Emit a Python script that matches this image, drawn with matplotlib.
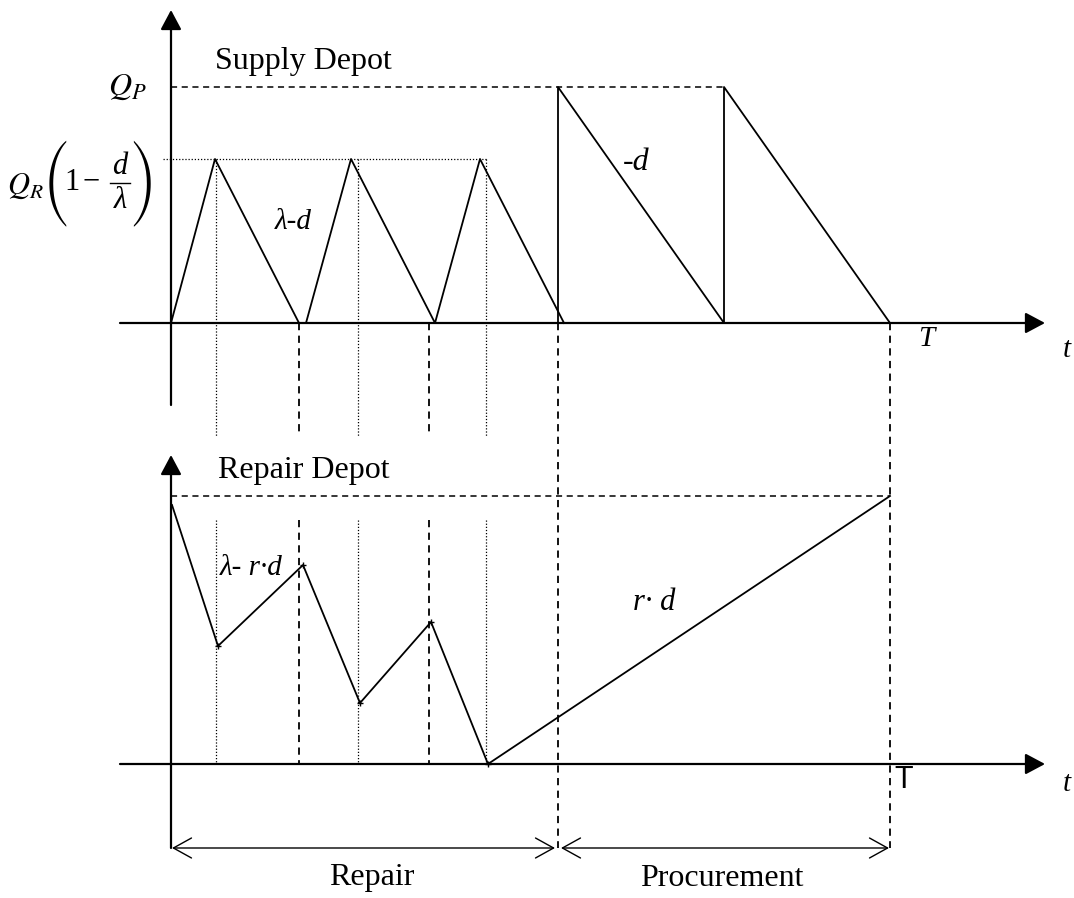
import matplotlib.pyplot as plt

plt.rcParams['font.family'] = ['Liberation Serif', 'DejaVu Serif']
plt.rcParams['mathtext.fontset'] = 'stix'

# time axis: 0 at the vertical axis
# Supply depot (upper panel)
rep_t = [0, 44, 128, 135, 180, 264, 309, 393]
rep_q = [0, 164, 0, 0, 164, 0, 164, 0]
proc_t = [387, 387, 553, 553, 719]
proc_q = [0, 236, 0, 236, 0]
q_r = 164
q_p = 236

# Repair depot (lower panel)
rd_t = [1, 47, 132, 189, 260, 317, 719]
rd_q = [259, 118, 199, 61, 142, 0, 268]
rd_top = 268

# cycle marks
dot_t = [45, 187, 315]
dash_t = [128, 258]
t_repair = 387
t_end = 719

fig = plt.figure(figsize=(10.74, 8.98), dpi=100)
top = fig.add_axes([0, 0, 1, 1])
bot = fig.add_axes([0, 0, 1, 1])
for a in (top, bot):
    a.set_xlim(-171, 903)
    a.axis('off')
    a.patch.set_alpha(0)
top.set_ylim(-575, 323)
bot.set_ylim(-134, 764)

k = 'black'
head = '-|>,head_length=0.6,head_width=0.32'


def axis_arrow(a, x0, y0, x1, y1):
    a.annotate('', xy=(x1, y1), xytext=(x0, y0),
               arrowprops=dict(arrowstyle=head, mutation_scale=20, lw=1.6,
                               color=k, shrinkA=0, shrinkB=0))


# ---- upper panel ----
axis_arrow(top, 0, -82, 0, 313)
axis_arrow(top, -51, 0, 874, 0)
top.plot([0, proc_t[2]], [q_p, q_p], color=k, lw=1.1, dashes=(4, 3))
top.plot([-8, 316], [q_r, q_r], color=k, lw=0.9, dashes=(1, 1.5))
for t in dot_t:
    top.plot([t, t], [q_r, -113], color=k, lw=0.9, dashes=(1, 1.5))
for t in dash_t:
    top.plot([t, t], [0, -113], color=k, lw=1.3, dashes=(4, 3))
for t in (t_repair, t_end):
    top.plot([t, t], [0, -525], color=k, lw=1.3, dashes=(4, 3))
top.plot(rep_t, rep_q, color=k, lw=1.3)
top.plot(proc_t, proc_q, color=k, lw=1.3)

top.text(44, 254, 'Supply Depot', fontsize=23, va='baseline')
top.text(-24, q_p, r'$Q_P$', fontsize=23, ha='right', va='center')

# Q_R (1 - d / lambda), built piece by piece
big = ['STIXSizeThreeSym', 'DejaVu Serif']
top.text(-127, 137, r'$Q_R$', fontsize=22, ha='right', va='center')
top.text(-115, 139, '(', fontsize=25, family=big, ha='center', va='center')
top.text(-28, 139, ')', fontsize=25, family=big, ha='center', va='center')
top.text(-99, 141, '1', fontsize=22, ha='center', va='center')
top.text(-80, 141, '−', fontsize=22, ha='center', va='center')
top.plot([-61, -41], [140, 140], color=k, lw=1.0)
top.text(-51, 157, 'd', fontsize=22, style='italic', ha='center', va='center')
top.text(-51, 122, 'λ', fontsize=22, style='italic', ha='center', va='center')

top.text(104, 101, 'λ-d', fontsize=21, style='italic', va='center')
top.text(452, 161, '-d', fontsize=23, style='italic', va='center')
top.text(747, -16, 'T', fontsize=21, style='italic', va='center')
top.text(892, -27, 't', fontsize=21, style='italic', va='center')

# ---- lower panel ----
axis_arrow(bot, 0, -84, 0, 309)
axis_arrow(bot, -51, 0, 874, 0)
bot.plot([0, t_end], [rd_top, rd_top], color=k, lw=1.1, dashes=(4, 3))
for t in dot_t:
    bot.plot([t, t], [244, 0], color=k, lw=0.9, dashes=(1, 1.5))
for t in dash_t:
    bot.plot([t, t], [244, 0], color=k, lw=1.3, dashes=(4, 3))
bot.plot(rd_t, rd_q, color=k, lw=1.3, marker='+', ms=5, mew=1,
         markevery=[1, 2, 3, 4, 5])

bot.text(47, 286, 'Repair Depot', fontsize=23, va='baseline')
bot.text(49, 196, 'λ- r·d', fontsize=21, style='italic', va='center')
bot.text(462, 162, 'r· d', fontsize=22, style='italic', va='center')
bot.text(723, -16, 'T', fontsize=22, family=['Liberation Sans', 'DejaVu Sans'],
         va='center')
bot.text(892, -20, 't', fontsize=21, style='italic', va='center')

span = '<->,head_length=0.65,head_width=0.36'
for a0, a1 in ((1, t_repair - 3), (t_repair + 3, t_end - 1)):
    bot.annotate('', xy=(a1, -84), xytext=(a0, -84),
                 arrowprops=dict(arrowstyle=span, mutation_scale=20, lw=1.0,
                                 color=k, shrinkA=0, shrinkB=0))
bot.text(t_repair / 2 + 7, -114, 'Repair', fontsize=23, ha='center', va='center')
bot.text((t_repair + t_end) / 2 - 2, -114, 'Procurement', fontsize=23,
         ha='center', va='center')

fig.savefig('out.png', dpi=100)
